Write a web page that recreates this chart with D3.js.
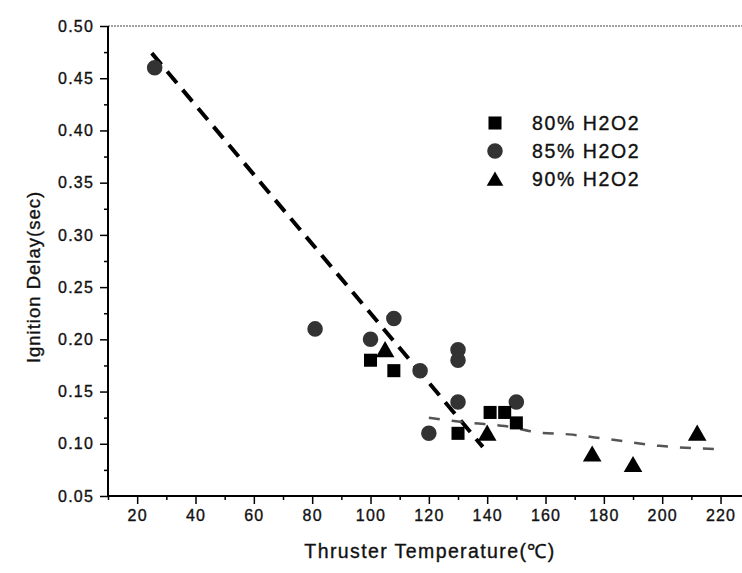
<!DOCTYPE html>
<html><head><meta charset="utf-8">
<script src="https://cdn.jsdelivr.net/npm/d3@7"></script>
<style>
body{margin:0;background:#fff;}
text{font-family:"Liberation Sans",Arial,sans-serif;fill:#111;stroke:#111;stroke-width:0.35px;}
</style></head>
<body><svg id="c" width="742" height="573"></svg>
<script>
// Data
const seriesNames = ["80% H2O2","85% H2O2","90% H2O2"];
const h80 = [[100,0.18],[108,0.17],[130,0.11],[141,0.13],[146,0.13],[150,0.12]];
const h85 = [[26,0.46],[81,0.21],[100,0.20],[108,0.22],[117,0.17],[120,0.11],[130,0.19],[130,0.18],[130,0.14],[150,0.14]];
const h90 = [[105,0.19],[140,0.11],[176,0.09],[190,0.08],[212,0.11]];
const fitSteep = [[25,0.474],[138.5,0.097]];
const fitShallow = [[120,0.125],[134,0.120],[146,0.117],[157,0.111],[168,0.109],[180,0.105],[199,0.098],[218,0.095]];
const xTicks = [20,40,60,80,100,120,140,160,180,200,220];
const xMinor = [10,30,50,70,90,110,130,150,170,190,210,230];
const yTicks = [0.05,0.10,0.15,0.20,0.25,0.30,0.35,0.40,0.45,0.50];
const yMinor = [0.075,0.125,0.175,0.225,0.275,0.325,0.375,0.425,0.475];

const svg = d3.select("#c");
const x = d3.scaleLinear().domain([10,230]).range([108,749.7]);
const y = d3.scaleLinear().domain([0.05,0.50]).range([496,26]);

// top frame line
svg.append("line").attr("x1",108).attr("x2",742).attr("y1",y(0.5)).attr("y2",y(0.5))
  .attr("stroke","#444").attr("stroke-width",1.2).attr("stroke-dasharray","2,1");

// axes
const xAxis = svg.append("g").attr("transform",`translate(0,${y(0.05)})`)
  .call(d3.axisBottom(x).tickValues(xTicks).tickSize(8).tickPadding(6).tickFormat(d3.format("d")));
svg.append("g").attr("transform",`translate(0,${y(0.05)})`)
  .call(d3.axisBottom(x).tickValues(xMinor).tickSize(4).tickFormat(""))
  .call(g=>g.select(".domain").remove());
const yAxis = svg.append("g").attr("transform",`translate(${x(10)},0)`)
  .call(d3.axisLeft(y).tickValues(yTicks).tickSize(8).tickPadding(6).tickFormat(d3.format(".2f")));
svg.append("g").attr("transform",`translate(${x(10)},0)`)
  .call(d3.axisLeft(y).tickValues(yMinor).tickSize(4).tickFormat(""))
  .call(g=>g.select(".domain").remove());
svg.selectAll(".domain").attr("stroke","#000").attr("stroke-width",2);
svg.selectAll(".tick line").attr("stroke","#000").attr("stroke-width",1.5);
xAxis.select(".domain").attr("d",`M108,0H742`);
yAxis.select(".domain").attr("d",`M0,${y(0.5)}V${y(0.05)}`);
svg.selectAll(".tick text").attr("font-size",16).attr("letter-spacing",1.2)
  .attr("font-family","Liberation Sans, Arial, sans-serif").attr("fill","#111");

// axis titles
svg.append("text").attr("x",430).attr("y",558).attr("text-anchor","middle")
  .attr("font-size",19.5).attr("letter-spacing",1.4).text("Thruster Temperature(℃)");
svg.append("text").attr("transform","translate(40,277) rotate(-90)").attr("text-anchor","middle")
  .attr("font-size",18.5).attr("letter-spacing",1).text("Ignition Delay(sec)");

// fit lines
const line = d3.line().x(d=>x(d[0])).y(d=>y(d[1]));
svg.append("path").datum(fitSteep).attr("d",line).attr("fill","none")
  .attr("stroke","#000").attr("stroke-width",4).attr("stroke-dasharray","15,9");
svg.append("path").datum(fitShallow).attr("d",d3.line().curve(d3.curveMonotoneX).x(d=>x(d[0])).y(d=>y(d[1])))
  .attr("fill","none").attr("stroke","#555").attr("stroke-width",2.5).attr("stroke-dasharray","11,12");

// markers
const sym = {
  sq: d3.symbol().type(d3.symbolSquare).size(170),
  ci: d3.symbol().type(d3.symbolCircle).size(190),
  tr: d3.symbol().type(d3.symbolTriangle).size(150)
};
svg.append("g").selectAll("path").data(h85).join("path")
  .attr("transform",d=>`translate(${x(d[0])},${y(d[1])})`).attr("d",sym.ci).attr("fill","#333");
svg.append("g").selectAll("path").data(h80).join("path")
  .attr("transform",d=>`translate(${x(d[0])},${y(d[1])})`).attr("d",sym.sq).attr("fill","#000");
svg.append("g").selectAll("path").data(h90).join("path")
  .attr("transform",d=>`translate(${x(d[0])},${y(d[1])+2})`).attr("d",sym.tr).attr("fill","#000");

// legend
const leg = svg.append("g");
const legSyms = [sym.sq, sym.ci, sym.tr];
const legFill = ["#000","#333","#000"];
seriesNames.forEach((n,i)=>{
  const yy = 123 + i*28;
  leg.append("path").attr("transform",`translate(495,${yy + (i===2?2:0)})`)
    .attr("d", i===2 ? d3.symbol().type(d3.symbolTriangle).size(120)() : legSyms[i]).attr("fill",legFill[i]);
  leg.append("text").attr("x",532).attr("y",yy+7).attr("font-size",19.5).attr("letter-spacing",1.6).text(n);
});
</script></body></html>
